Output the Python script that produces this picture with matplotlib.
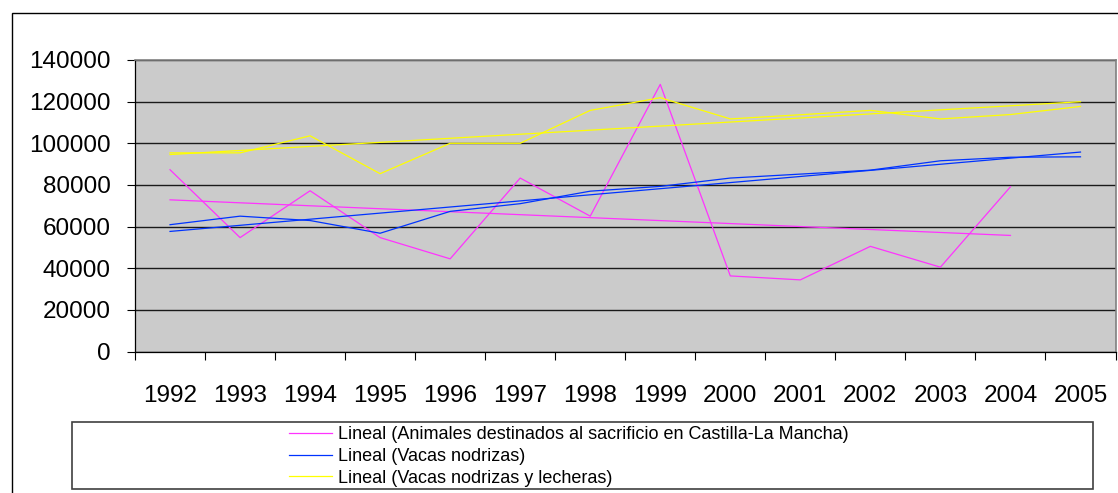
import numpy as np
import matplotlib
matplotlib.use("Agg")
import matplotlib.pyplot as plt
from matplotlib.patches import Rectangle

plt.rcParams['font.family'] = ['Liberation Sans Narrow', 'Liberation Sans', 'DejaVu Sans']

years = ["1992", "1993", "1994", "1995", "1996", "1997", "1998",
         "1999", "2000", "2001", "2002", "2003", "2004", "2005"]
sacrificio = [87300, 54700, 77200, 54700, 44500, 83300, 65000,
              128300, 36300, 34400, 50500, 40500, 79100, np.nan]
nodrizas = [60900, 65000, 62900, 56800, 67300, 71000, 77000,
            79300, 83300, 85200, 87100, 91600, 93300, 93500]
nodrizas_lecheras = [95400, 95400, 103600, 85400, 100000, 100000, 115800,
                     121900, 111700, 113700, 115800, 111700, 113800, 117700]

labels = ["Lineal (Animales destinados al sacrificio en Castilla-La Mancha)",
          "Lineal (Vacas nodrizas)",
          "Lineal (Vacas nodrizas y lecheras)"]
colors = ["#FF33FF", "#0033FF", "#FFFF00"]

W, H = 1118, 493
fig = plt.figure(figsize=(W / 100, H / 100), dpi=100)
ax = fig.add_axes([135 / W, 1 - 351.5 / H, (1115.5 - 135) / W, (351.5 - 60) / H])
ax.set_facecolor("#CBCBCB")

x = np.arange(len(years))
for serie, col, lab in zip([sacrificio, nodrizas, nodrizas_lecheras], colors, labels):
    y = np.array(serie, dtype=float)
    ok = ~np.isnan(y)
    ax.plot(x[ok], y[ok], color=col, lw=0.9)
    # linear trendline (Excel "Lineal")
    a, b = np.polyfit(x[ok], y[ok], 1)
    ax.plot(x[ok], a * x[ok] + b, color=col, lw=0.9, label=lab)

ax.set_xlim(-0.5, len(years) - 0.5)
ax.set_ylim(0, 140000)
ax.set_yticks(np.arange(0, 140001, 20000))
ax.set_yticklabels([str(v) for v in range(0, 140001, 20000)], fontsize=17.5)
ax.tick_params(axis='y', direction='out', length=5.5, width=0.8, pad=12)
ax.yaxis.grid(True, color="#1A1A1A", lw=1.0)
ax.set_axisbelow(True)

ax.set_xticks(x)
ax.set_xticklabels(years, fontsize=17.5)
ax.tick_params(axis='x', which='major', length=0, pad=24)
ax.set_xticks(np.arange(-0.5, len(years)), minor=True)
ax.tick_params(axis='x', which='minor', direction='out', length=5.5, width=0.8)

for s in ['left', 'bottom']:
    ax.spines[s].set_color('black')
    ax.spines[s].set_linewidth(0.9)
for s in ['top', 'right']:
    ax.spines[s].set_color('#808080')
    ax.spines[s].set_linewidth(1.2)

# outer chart border (cut by the image edge)
fig.add_artist(Rectangle((12 / W, -0.05), 1.1, 1 - 13 / H + 0.05,
                         transform=fig.transFigure, fill=False,
                         edgecolor='black', lw=1.0))
# legend box
fig.add_artist(Rectangle((72 / W, 1 - 489 / H), (1092.5 - 72) / W, (489 - 422) / H,
                         transform=fig.transFigure, fill=False,
                         edgecolor='#404040', lw=1.2))
handles, labs = ax.get_legend_handles_labels()
leg = fig.legend(handles, labs, loc='center left',
                 bbox_to_anchor=(289 / W, 1 - 456.5 / H),
                 frameon=False, fontsize=13, handlelength=2.4,
                 handletextpad=0.33, labelspacing=0.25,
                 borderpad=0, borderaxespad=0)

fig.savefig("out.png", dpi=100)
